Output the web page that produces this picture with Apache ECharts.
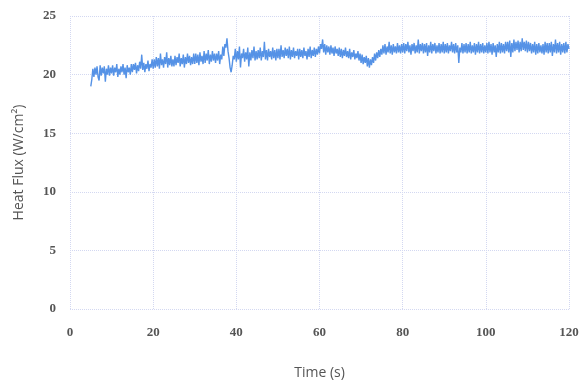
<!DOCTYPE html>
<html>
<head>
<meta charset="utf-8">
<script src="https://cdn.jsdelivr.net/npm/echarts@6/dist/echarts.min.js"></script>
<style>
  html, body { margin: 0; padding: 0; background: #fff; }
  #chart { width: 582px; height: 385px; }
</style>
</head>
<body>
<div id="chart"></div>
<script>
// sampled every 0.25 s starting at 5 s (one row = 5 s)
const startTime = 5;
const step = 0.25;
const heatFlux = [
  19.0, 19.6, 20.5, 19.8, 20.6, 20.0, 20.7, 19.8, 19.5, 20.8, 19.9, 20.6, 20.1, 20.7, 19.4, 20.5, 20.0, 20.8, 19.9, 20.6,
  20.1, 20.8, 19.9, 20.6, 20.2, 20.9, 19.8, 20.5, 20.0, 20.7, 20.2, 20.9, 20.0, 20.6, 19.7, 20.8, 20.2, 20.6, 20.0, 20.9,
  20.2, 20.9, 20.4, 21.0, 20.1, 20.8, 20.3, 21.1, 20.5, 21.7, 20.4, 21.0, 20.2, 20.9, 20.5, 21.2, 20.3, 20.9, 20.6, 21.3,
  20.5, 21.3, 20.6, 21.5, 20.7, 21.4, 20.5, 21.8, 20.8, 21.3, 20.6, 21.5, 20.9, 21.9, 20.6, 21.4, 20.8, 21.6, 20.7, 21.3,
  20.7, 21.6, 20.8, 21.5, 21.0, 21.8, 20.7, 21.4, 20.9, 21.7, 20.6, 21.5, 20.9, 21.8, 21.0, 21.6, 20.8, 21.5, 20.9, 21.8,
  20.9, 21.8, 21.0, 21.7, 20.8, 21.9, 21.1, 21.6, 20.9, 22.0, 21.0, 21.8, 21.2, 22.1, 20.9, 21.7, 21.1, 22.0, 21.2, 21.8,
  21.0, 21.8, 21.2, 22.0, 20.9, 21.7, 21.3, 22.4, 21.6, 22.6, 22.3, 23.1, 22.0, 21.4, 20.6, 20.2, 20.8, 21.6, 21.3, 22.2,
  21.1, 22.0, 21.3, 22.4, 20.6, 21.8, 21.4, 22.2, 21.1, 21.9, 21.3, 22.3, 20.7, 21.9, 21.2, 22.1, 21.4, 22.4, 21.2, 22.0,
  21.3, 22.1, 21.4, 22.3, 21.2, 22.0, 21.5, 22.8, 21.3, 22.1, 21.2, 22.2, 21.5, 22.0, 21.3, 22.3, 21.4, 22.1, 21.2, 22.2,
  21.4, 22.2, 21.3, 22.5, 21.5, 22.1, 21.4, 22.3, 21.6, 22.2, 21.4, 22.4, 21.3, 22.1, 21.5, 22.3, 21.4, 22.0, 21.6, 22.2,
  21.3, 22.2, 21.5, 22.1, 21.4, 22.3, 21.6, 22.0, 21.3, 22.2, 21.5, 22.4, 21.4, 22.1, 21.6, 22.3, 21.5, 22.2, 21.7, 22.4,
  21.8, 22.6, 22.2, 23.0, 21.9, 22.6, 21.7, 22.5, 21.9, 22.4, 21.7, 22.5, 21.8, 22.3, 21.6, 22.4, 21.8, 22.2, 21.6, 22.3,
  21.5, 22.2, 21.4, 22.1, 21.6, 22.3, 21.5, 22.0, 21.4, 22.2, 21.3, 21.9, 21.5, 22.1, 21.3, 21.8, 21.4, 22.0, 21.2, 21.8,
  21.0, 21.7, 20.9, 21.5, 21.0, 21.6, 20.7, 21.4, 20.6, 21.3, 20.8, 21.5, 21.0, 21.8, 21.2, 21.9, 21.4, 22.1, 21.5, 22.2,
  21.7, 22.5, 21.8, 22.6, 21.7, 22.4, 21.9, 22.8, 21.8, 22.5, 21.7, 22.6, 21.9, 22.4, 21.8, 22.7, 21.9, 22.5, 21.8, 22.6,
  21.9, 22.7, 21.8, 22.6, 22.0, 22.8, 21.9, 22.5, 21.7, 22.6, 22.0, 22.7, 21.8, 22.5, 21.9, 23.0, 21.8, 22.6, 22.0, 22.7,
  21.8, 22.6, 21.9, 22.7, 21.6, 22.5, 21.9, 22.8, 21.8, 22.6, 22.0, 22.7, 21.8, 22.5, 21.9, 22.7, 21.8, 22.6, 21.9, 22.8,
  21.8, 22.6, 21.9, 22.7, 21.8, 22.5, 22.0, 22.8, 21.9, 22.6, 21.8, 22.7, 21.9, 22.5, 21.0, 22.3, 21.9, 22.7, 21.8, 22.6,
  21.9, 22.7, 21.8, 22.6, 21.9, 22.8, 21.8, 22.5, 21.9, 22.7, 21.7, 22.6, 21.9, 22.8, 21.8, 22.6, 21.9, 22.7, 21.8, 22.5,
  21.9, 22.7, 21.8, 22.8, 21.9, 22.6, 21.7, 22.7, 21.9, 22.5, 21.5, 22.6, 21.9, 22.8, 21.8, 22.7, 21.9, 22.6, 21.8, 22.8,
  22.0, 22.8, 21.9, 22.9, 21.5, 22.7, 21.9, 23.0, 22.0, 22.8, 22.1, 22.9, 21.9, 22.8, 22.0, 23.1, 22.1, 22.8, 22.0, 22.9,
  21.9, 22.8, 22.0, 22.7, 21.8, 22.6, 21.9, 22.8, 21.7, 22.6, 21.8, 22.7, 21.9, 22.5, 21.8, 22.6, 21.7, 22.8, 21.9, 22.7,
  21.8, 22.7, 21.9, 22.8, 21.6, 22.6, 21.9, 23.0, 21.8, 22.7, 21.9, 22.8, 21.7, 22.6, 21.9, 22.7, 21.8, 22.8, 21.9, 22.6,
  22.2
];
const xTicks = [0, 120, 20];   // min, max, interval
const yTicks = [0, 25, 5];

const points = heatFlux.map((v, i) => [startTime + i * step, v]);

const gridLine = { show: true, lineStyle: { color: '#d3d8f1', type: 'dotted', width: 1 } };
const tickFont = { color: '#555', fontFamily: 'Liberation Serif', fontWeight: 'bold', fontSize: 13 };
const nameFont = { color: '#555', fontFamily: 'Open Sans', fontSize: 14 };

const myChart = echarts.init(document.getElementById('chart'));
const option = {
  animation: false,
  grid: { left: 70, right: 13, top: 16, bottom: 73 },
  xAxis: {
    type: 'value',
    min: xTicks[0], max: xTicks[1], interval: xTicks[2],
    name: 'Time (s)',
    nameLocation: 'middle',
    nameGap: 57,
    nameTextStyle: nameFont,
    axisLine: { show: false },
    axisTick: { show: false },
    axisLabel: Object.assign({ margin: 17 }, tickFont),
    splitLine: gridLine
  },
  yAxis: {
    type: 'value',
    min: yTicks[0], max: yTicks[1], interval: yTicks[2],
    name: 'Heat Flux (W/cm²)',
    nameLocation: 'middle',
    nameGap: 44,
    nameTextStyle: nameFont,
    axisLine: { show: false },
    axisTick: { show: false },
    axisLabel: Object.assign({ margin: 14 }, tickFont),
    splitLine: gridLine
  },
  series: [{
    type: 'line',
    data: points,
    showSymbol: false,
    lineStyle: { color: '#5592e6', width: 1.4 }
  }]
};
myChart.setOption(option);
</script>
</body>
</html>
